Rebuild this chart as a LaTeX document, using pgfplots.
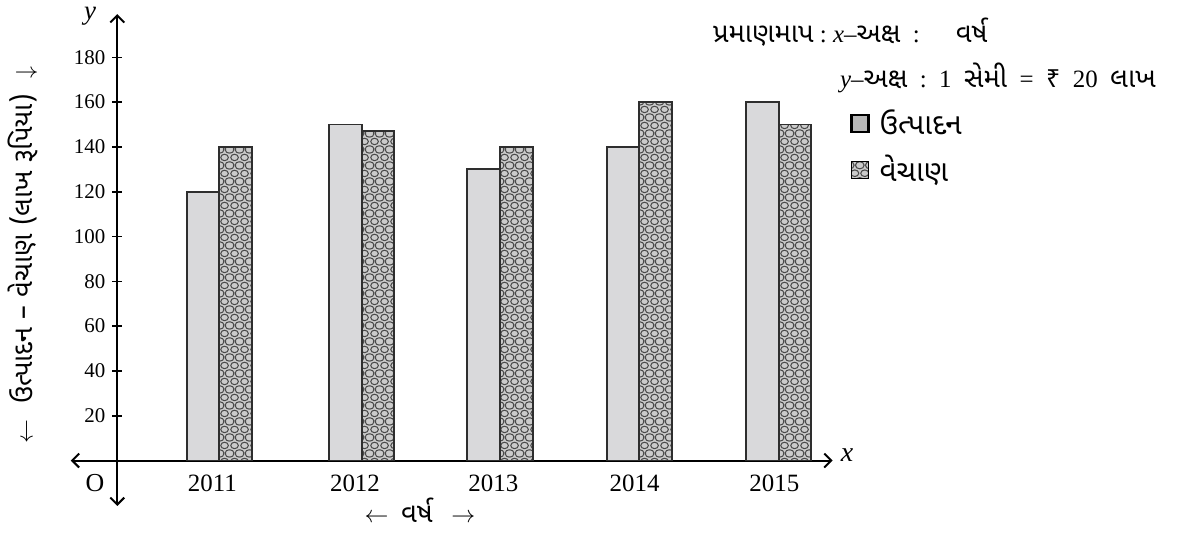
\documentclass[border=0pt]{standalone}
\usepackage{fontspec}
\setmainfont{Liberation Serif}
\newfontfamily\guj[Script=Gujarati, Scale=1.1]{Noto Sans Gujarati UI}
\newfontfamily\rupee{Noto Sans}
\usepackage{pgfplots}
\usepackage{pgfplotstable}
\pgfplotsset{compat=1.18}
\usetikzlibrary{patterns,arrows.meta}

\definecolor{prodfill}{HTML}{D9D9DB}
\definecolor{salesfill}{HTML}{CBCBCB}
\definecolor{edge}{HTML}{2E2E2E}
\definecolor{circ}{HTML}{4A4A4A}

\pgfdeclarepatternformonly{gcircles}{\pgfqpoint{0bp}{0bp}}{\pgfqpoint{5bp}{8bp}}{\pgfqpoint{5bp}{8bp}}{%
  \pgfsetlinewidth{0.55bp}%
  \pgfpathellipse{\pgfqpoint{2.5bp}{4bp}}{\pgfqpoint{2.1bp}{0bp}}{\pgfqpoint{0bp}{1.7bp}}%
  \pgfpathellipse{\pgfqpoint{0bp}{0bp}}{\pgfqpoint{2.1bp}{0bp}}{\pgfqpoint{0bp}{1.7bp}}%
  \pgfpathellipse{\pgfqpoint{5bp}{0bp}}{\pgfqpoint{2.1bp}{0bp}}{\pgfqpoint{0bp}{1.7bp}}%
  \pgfpathellipse{\pgfqpoint{0bp}{8bp}}{\pgfqpoint{2.1bp}{0bp}}{\pgfqpoint{0bp}{1.7bp}}%
  \pgfpathellipse{\pgfqpoint{5bp}{8bp}}{\pgfqpoint{2.1bp}{0bp}}{\pgfqpoint{0bp}{1.7bp}}%
  \pgfusepath{stroke}%
}

\pgfplotstableread{
x y
0.730 120
1.748 150
2.737 130
3.734 140
4.731 160
}\prodtable
\pgfplotstableread{
x y
0.730 140
1.748 147
2.737 140
3.734 160
4.731 150
}\salestable

\begin{document}
\begin{tikzpicture}
\begin{axis}[
  at={(58.65bp,-230.25bp)}, anchor=origin,
  x=69.9bp, y=1.12bp,
  xmin=-0.333, xmax=5.117, ymin=-20.3, ymax=199.3,
  axis lines=middle,
  axis line style={line width=1bp, black, {Straight Barb[length=3.5bp,width=7bp]}-{Straight Barb[length=3.5bp,width=7bp]}},
  ytick={20,40,...,180},
  xtick={0.68,1.70,2.69,3.70,4.70},
  xticklabels={2011,2012,2013,2014,2015},
  x tick style={draw=none},
  y tick style={line width=0.8bp, black},
  major tick length=5bp,
  /pgf/number format/assume math mode=true,
  yticklabel style={font=\fontsize{10.5}{12}\selectfont},
  xticklabel style={font=\fontsize{12.5}{14}\selectfont, yshift=-1bp},
  legend image code/.code={\draw[#1] (0bp,-4.25bp) rectangle (8.5bp,4.25bp);},
  legend cell align=left,
  legend style={at={(1.0227,0.815)}, anchor=north west, draw=none, fill=none,
    font=\guj\fontsize{13.5}{15}\selectfont, row sep=5bp, inner sep=0pt},
  clip=false,
]
\addlegendimage{fill=gray!55, draw=black, line width=1.1bp}
\addlegendentry{\hspace{3bp}ઉત્પાદન}
\addlegendimage{fill=salesfill, draw=black, line width=0.6bp, postaction={pattern=gcircles, pattern color=circ}}
\addlegendentry{\hspace{3bp}વેચાણ}
\addplot[ybar, bar width=16.35bp, bar shift=-8.175bp, fill=prodfill, draw=edge, line width=0.9bp, forget plot] table {\prodtable};
\addplot[ybar, bar width=16.35bp, bar shift=8.175bp, fill=salesfill, draw=edge, line width=0.9bp, postaction={pattern=gcircles, pattern color=circ}, forget plot] table {\salestable};
\addplot[ybar, bar width=16.35bp, bar shift=8.175bp, fill=none, draw=edge, line width=0.9bp, forget plot] table {\salestable};
\end{axis}
\node[anchor=west, font=\fontsize{12.5}{14}\selectfont] at (353bp,-16bp) {{\guj પ્રમાણમાપ}\ :\ \textit{x}–{\guj અક્ષ}\ \ :\hspace{18bp}{\guj વર્ષ}};
\node[anchor=west, font=\fontsize{12.5}{14}\selectfont] at (416.5bp,-39bp) {\textit{y}–{\guj અક્ષ}\ \ :\ \ 1\ \ {\guj સેમી}\ \ =\ \ {\rupee ₹}\ \ 20\ \ {\guj લાખ}};
\node[anchor=base, font=\fontsize{13.5}{15}\selectfont\itshape] at (45bp,-9.5bp) {y};
\node[font=\fontsize{14}{16}\selectfont\itshape] at (423.5bp,-227.5bp) {x};
\node[font=\fontsize{13}{15}\selectfont] at (47.5bp,-241.5bp) {O};
\node[rotate=90, font=\fontsize{12.5}{14}\selectfont] at (11.5bp,-127.5bp) {$\leftarrow$\hspace{8bp}{\guj ઉત્પાદન – વેચાણ (લાખ રૂપિયા)}\hspace{8bp}$\downarrow$};
\node[font=\fontsize{12.5}{14}\selectfont] at (210bp,-255bp) {$\leftarrow$\ \ {\guj વર્ષ}\ \ \ $\rightarrow$};
\pgfresetboundingbox
\path[use as bounding box] (0,0) rectangle (589.5bp,-266.5bp);
\end{tikzpicture}
\end{document}
